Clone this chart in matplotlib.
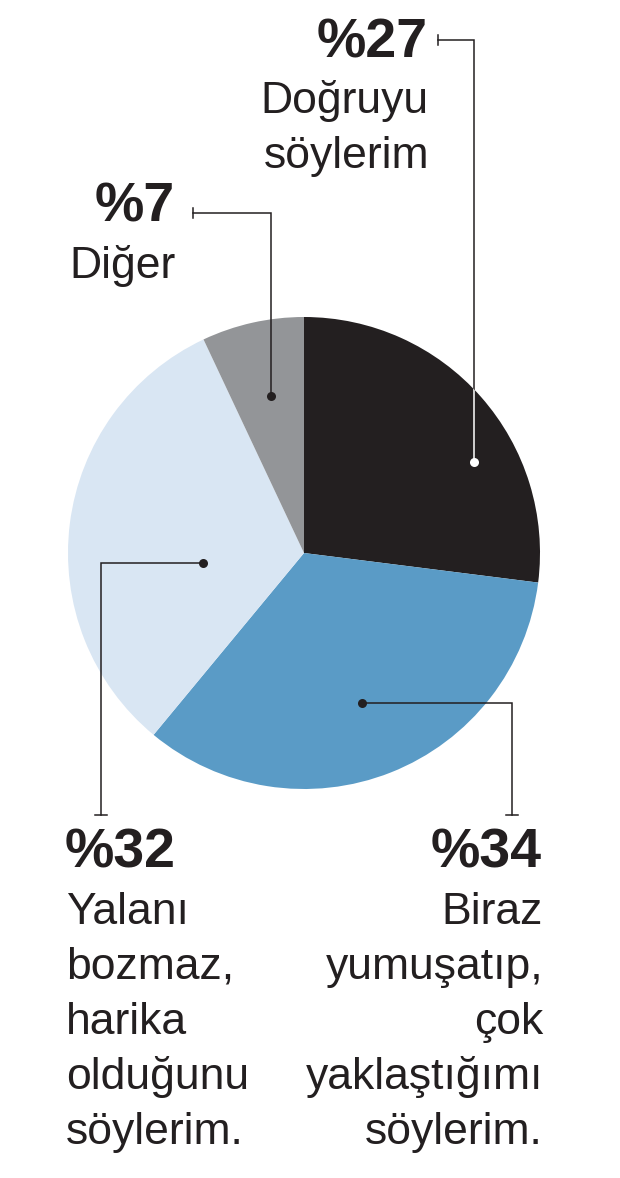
import numpy as np
import matplotlib.pyplot as plt

# slice data, clockwise from 12 o'clock
shares = [27, 34, 32, 7]
pct_labels = ["%27", "%34", "%32", "%7"]
answers = [
    ["Doğruyu", "söylerim"],
    ["Biraz", "yumuşatıp,", "çok", "yaklaştığımı", "söylerim."],
    ["Yalanı", "bozmaz,", "harika", "olduğunu", "söylerim."],
    ["Diğer"],
]
colors = ["#231f20", "#5a9bc6", "#d9e6f3", "#939598"]

W, H = 620, 1178
CX, CY, R = 304, 553, 236  # pixel coords, y down

# leader layout: dot (angle deg, radius px), first leg direction, end point of leader
dot_polar = [(28, 193), (-69, 161), (185.6, 101), (102, 160)]
first_leg = ["v", "h", "h", "v"]
leader_end = [(438, 40), (512, 815), (101, 815), (193, 213)]
# text anchor (x, baseline of percent), alignment
text_pos = [(428, 57, "right"), (542, 868, "right"), (65, 868, "left"), (175, 222, "right")]

FONT = "Liberation Sans"
INK = "#231f20"


def yy(y):
    return H - y


def main() -> None:
    fig = plt.figure(figsize=(W / 100, H / 100), dpi=100)
    ax = fig.add_axes([0, 0, 1, 1])

    wedges, _ = ax.pie(
        shares,
        colors=colors,
        startangle=90,
        counterclock=False,
        center=(CX, yy(CY)),
        radius=R,
        frame=True,
        wedgeprops=dict(linewidth=0),
    )
    ax.set_xlim(0, W)
    ax.set_ylim(0, H)
    ax.set_aspect("equal")
    ax.axis("off")

    for i, wedge in enumerate(wedges):
        ang, rr = dot_polar[i]
        dx = CX + rr * np.cos(np.radians(ang))
        dy = CY - rr * np.sin(np.radians(ang))
        ex, ey = leader_end[i]
        if first_leg[i] == "v":
            px = [dx, dx, ex]
            py = [dy, ey, ey]
            tick = ([ex, ex], [ey - 5, ey + 5])
        else:
            px = [dx, ex, ex]
            py = [dy, dy, ey]
            tick = ([ex - 6, ex + 6], [ey, ey])
        ax.plot(px, [yy(v) for v in py], color=INK, lw=1.1,
                solid_joinstyle="miter", zorder=3)
        ax.plot(tick[0], [yy(v) for v in tick[1]], color=INK, lw=1.1, zorder=3)
        dot_color = INK
        if colors[i] == INK:
            # line turns white over the dark slice
            white, = ax.plot(px, [yy(v) for v in py], color="white", lw=1.1,
                             solid_joinstyle="miter", zorder=4)
            white.set_clip_path(wedge)
            dot_color = "white"
        ax.plot([dx], [yy(dy)], "o", color=dot_color, ms=6.5, mec="none", zorder=5)

        tx, ty, ha = text_pos[i]
        ax.text(tx, yy(ty), pct_labels[i], ha=ha, va="baseline",
                fontsize=40, fontweight="bold", family=FONT, color=INK)
        for j, line in enumerate(answers[i]):
            ax.text(tx + 1, yy(ty + 56 + 55 * j), line,
                    ha=ha, va="baseline", fontsize=32, family=FONT, color=INK)

    fig.savefig("out.png", dpi=100)
    plt.close(fig)


if __name__ == "__main__":
    main()
